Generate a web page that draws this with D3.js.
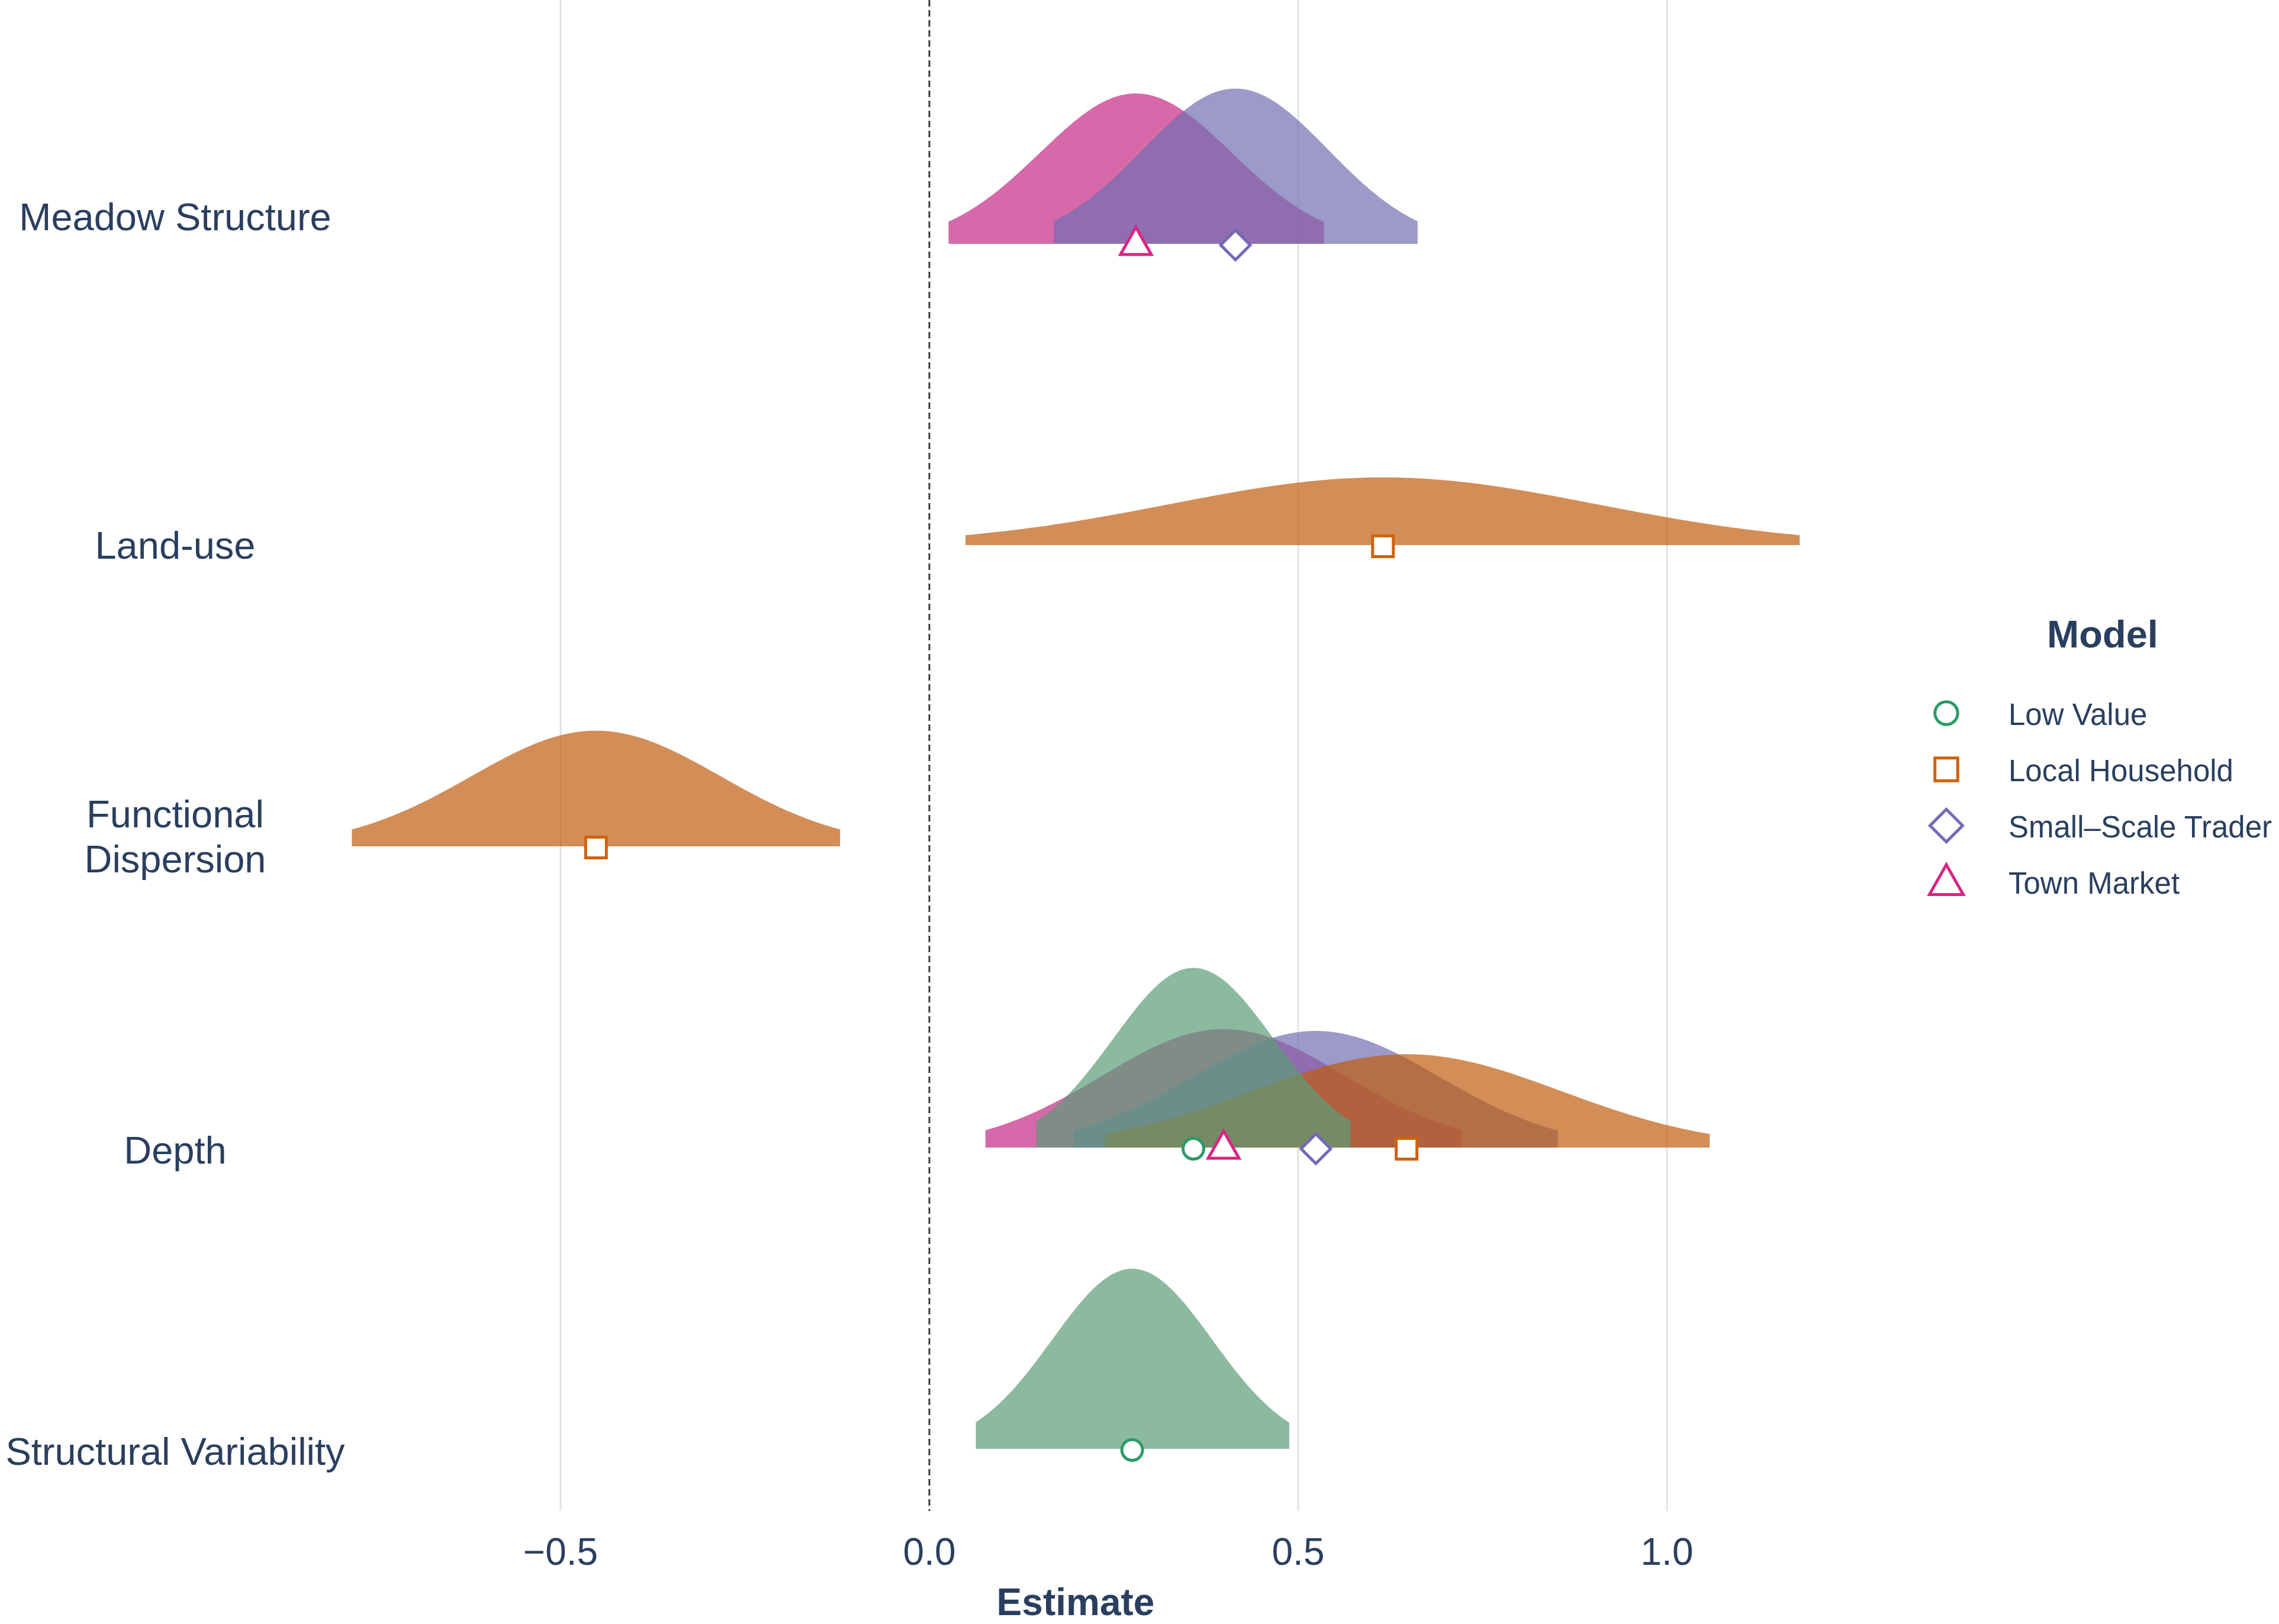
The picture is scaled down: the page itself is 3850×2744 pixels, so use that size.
<!DOCTYPE html>
<html>
<head>
<meta charset="utf-8">
<script src="https://cdn.jsdelivr.net/npm/d3@7"></script>
<style>
  html, body { margin: 0; padding: 0; background: #ffffff; }
  svg { display: block; }
  text { font-family: "Liberation Sans", Arial, Helvetica, sans-serif; fill: #2a3f5f; }
</style>
</head>
<body>
<script>
// ---------------- data ----------------
const categories = ["Meadow Structure", "Land-use", "Functional Dispersion", "Depth", "Structural Variability"];
const models = ["Low Value", "Local Household", "Small–Scale Trader", "Town Market"];

// estimate and 95% interval bounds per category (null = not estimated)
const lowValueEst = [null, null, null, 0.358, 0.275];
const lowValueLo  = [null, null, null, 0.145, 0.063];
const lowValueHi  = [null, null, null, 0.571, 0.488];

const householdEst = [null, 0.615, -0.452, 0.647, null];
const householdLo  = [null, 0.049, -0.783, 0.238, null];
const householdHi  = [null, 1.180, -0.121, 1.058, null];

const traderEst = [0.415, null, null, 0.524, null];
const traderLo  = [0.169, null, null, 0.196, null];
const traderHi  = [0.662, null, null, 0.852, null];

const marketEst = [0.280, null, null, 0.399, null];
const marketLo  = [0.026, null, null, 0.076, null];
const marketHi  = [0.535, null, null, 0.722, null];

const xTicks = [-0.5, 0.0, 0.5, 1.0];
const xTickLabels = ["−0.5", "0.0", "0.5", "1.0"];

// ---------------- styles ----------------
const W = 3850, H = 2744;
const strokeColors = {"Low Value": "#2f9a68", "Local Household": "#cf620c", "Small–Scale Trader": "#7469b8", "Town Market": "#d92683"};
const fillColors   = {"Low Value": "#5b9c77", "Local Household": "#c05c10", "Small–Scale Trader": "#706fb2", "Town Market": "#c42a84"};
const fillOpacity = 0.7;
const symbolKind = {"Low Value": "circle", "Local Household": "square", "Small–Scale Trader": "diamond", "Town Market": "triangle"};

const series = [
  {model: "Low Value", est: lowValueEst, lo: lowValueLo, hi: lowValueHi},
  {model: "Local Household", est: householdEst, lo: householdLo, hi: householdHi},
  {model: "Small–Scale Trader", est: traderEst, lo: traderLo, hi: traderHi},
  {model: "Town Market", est: marketEst, lo: marketLo, hi: marketHi}
];
// drawing order (bottom to top)
const drawOrder = ["Town Market", "Small–Scale Trader", "Local Household", "Low Value"];

// ---------------- scales ----------------
const x = d3.scaleLinear().domain([-0.5, 1.0]).range([947, 2816]);
const y = d3.scalePoint().domain(categories).range([412, 2448]);
const hScale = d3.scaleLinear().domain([0, 1]).range([0, 82.7]); // density -> px height
const plotTop = 0, plotBottom = 2553, plotLeft = 580, plotRight = 3054;

const svg = d3.select("body").append("svg").attr("width", W).attr("height", H);
svg.append("rect").attr("width", W).attr("height", H).attr("fill", "#ffffff");

// grid
svg.append("g").selectAll("line").data(xTicks.filter(t => t !== 0)).join("line")
  .attr("x1", d => x(d)).attr("x2", d => x(d))
  .attr("y1", plotTop).attr("y2", plotBottom)
  .attr("stroke", "#e2e2e2").attr("stroke-width", 3);

// zero line
svg.append("line")
  .attr("x1", x(0)).attr("x2", x(0)).attr("y1", plotTop).attr("y2", plotBottom)
  .attr("stroke", "#3a3a3a").attr("stroke-width", 3).attr("stroke-dasharray", "11,6");

// ---------------- ridges ----------------
function normalPdf(v, m, s) { const z = (v - m) / s; return Math.exp(-0.5 * z * z) / (s * Math.sqrt(2 * Math.PI)); }

const ridges = [];
drawOrder.forEach(mName => {
  const s = series.find(d => d.model === mName);
  categories.forEach((c, i) => {
    if (s.est[i] === null) return;
    const sd = (s.hi[i] - s.lo[i]) / (2 * 1.96);
    const pts = d3.range(0, 201).map(k => {
      const v = s.lo[i] + (s.hi[i] - s.lo[i]) * k / 200;
      return {v, dens: normalPdf(v, s.est[i], sd)};
    });
    ridges.push({model: mName, cat: c, est: s.est[i], pts});
  });
});

const gR = svg.append("g");
ridges.forEach(r => {
  const base = y(r.cat);
  gR.append("path")
    .attr("d", d3.area()
      .x(p => x(p.v))
      .y0(base)
      .y1(p => base - hScale(p.dens))(r.pts))
    .attr("fill", fillColors[r.model])
    .attr("fill-opacity", fillOpacity);
});

// ---------------- symbols ----------------
function symbolPath(kind, scale) {
  const k = scale || 1;
  if (kind === "circle") { const r = 17.5 * k; return `M${-r},0A${r},${r} 0 1,0 ${r},0A${r},${r} 0 1,0 ${-r},0Z`; }
  if (kind === "square") { const a = 17.5 * k; return `M${-a},${-a}H${a}V${a}H${-a}Z`; }
  if (kind === "diamond") { const a = 25 * k; return `M0,${-a}L${a},0L0,${a}L${-a},0Z`; }
  if (kind === "triangle") { return `M0,${-30 * k}L${26 * k},${16 * k}L${-26 * k},${16 * k}Z`; }
}

const gM = svg.append("g");
ridges.forEach(r => {
  gM.append("path")
    .attr("d", symbolPath(symbolKind[r.model]))
    .attr("transform", `translate(${x(r.est)},${y(r.cat) + 2})`)
    .attr("fill", "#ffffff")
    .attr("stroke", strokeColors[r.model])
    .attr("stroke-width", 5)
    .attr("stroke-linejoin", "miter");
});

// ---------------- y labels ----------------
const labelNudge = {"Meadow Structure": -46, "Land-use": 0, "Functional Dispersion": -17, "Depth": 4, "Structural Variability": 4};
const gY = svg.append("g");
categories.forEach(c => {
  const words = c === "Functional Dispersion" ? ["Functional", "Dispersion"] : [c];
  const t = gY.append("text")
    .attr("x", 296)
    .attr("y", y(c) + labelNudge[c])
    .attr("text-anchor", "middle")
    .attr("dominant-baseline", "central")
    .attr("font-size", 65);
  words.forEach((w, j) => {
    t.append("tspan").attr("x", 296)
      .attr("dy", words.length === 1 ? 0 : (j === 0 ? -38 : 76))
      .text(w);
  });
});

// ---------------- x axis ----------------
const gX = svg.append("g");
xTicks.forEach((t, i) => {
  gX.append("text")
    .attr("x", x(t)).attr("y", 2622)
    .attr("text-anchor", "middle").attr("dominant-baseline", "central")
    .attr("font-size", 64)
    .text(xTickLabels[i]);
});
svg.append("text")
  .attr("x", (plotLeft + plotRight) / 2).attr("y", 2729)
  .attr("text-anchor", "middle")
  .attr("font-size", 64).attr("font-weight", "bold")
  .text("Estimate");

// ---------------- legend ----------------
const gL = svg.append("g");
gL.append("text")
  .attr("x", 3552).attr("y", 1071)
  .attr("text-anchor", "middle").attr("dominant-baseline", "central")
  .attr("font-size", 65).attr("font-weight", "bold")
  .text("Model");
const legendY = d3.scalePoint().domain(models).range([1205, 1490]);
models.forEach(m => {
  gL.append("path")
    .attr("d", symbolPath(symbolKind[m], 1.1))
    .attr("transform", `translate(3288,${legendY(m) + (symbolKind[m] === "triangle" ? 4 : 0)})`)
    .attr("fill", "#ffffff")
    .attr("stroke", strokeColors[m])
    .attr("stroke-width", 5);
  gL.append("text")
    .attr("x", 3393).attr("y", legendY(m) + 2)
    .attr("dominant-baseline", "central")
    .attr("font-size", 51)
    .text(m);
});
</script>
</body>
</html>
